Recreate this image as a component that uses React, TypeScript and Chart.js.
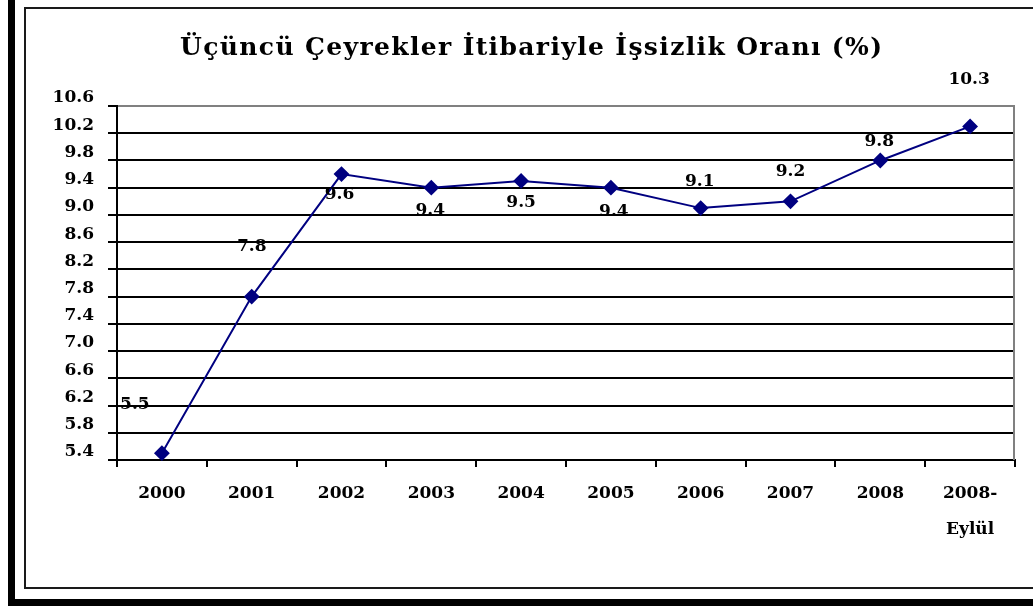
import React, { useEffect, useRef } from 'react';
import { Chart, registerables } from 'chart.js';

Chart.register(...registerables);

const titleText = 'Üçüncü Çeyrekler İtibariyle İşsizlik Oranı (%)';
const categories: (string | string[])[] = ['2000', '2001', '2002', '2003', '2004', '2005', '2006', '2007', '2008', ['2008-', 'Eylül']];
const unemployment = [5.5, 7.8, 9.6, 9.4, 9.5, 9.4, 9.1, 9.2, 9.8, 10.3];
const yTicks = [5.4, 5.8, 6.2, 6.6, 7.0, 7.4, 7.8, 8.2, 8.6, 9.0, 9.4, 9.8, 10.2, 10.6];
// label placement relative to each point (dx, dy)
const labelOffsets: [number, number][] = [
  [-27, -49], [0, -50], [-2, 21], [-1, 23], [0, 22], [3, 24], [-1, -27], [0, -30], [-1, -19], [-1, -47],
];

const FONT = '"DejaVu Serif", serif';

export default function App() {
  const ref = useRef<HTMLCanvasElement | null>(null);

  useEffect(() => {
    const canvas = ref.current;
    if (!canvas) return;

    const titlePlugin = {
      id: 'customTitle',
      afterDraw(chart: any) {
        const ctx = chart.ctx as CanvasRenderingContext2D;
        ctx.save();
        ctx.font = `bold 25px ${FONT}`;
        ctx.fillStyle = '#000';
        ctx.textAlign = 'left';
        ctx.textBaseline = 'alphabetic';
        (ctx as any).letterSpacing = '0px';
        const w = ctx.measureText(titleText).width;
        const target = 702;
        const ls = Math.max(0, (target - w) / (titleText.length - 1));
        (ctx as any).letterSpacing = `${ls}px`;
        ctx.fillText(titleText, 180, 55);
        (ctx as any).letterSpacing = '0px';
        ctx.restore();
      },
    };

    const frameAndLabels = {
      id: 'frameAndLabels',
      afterDatasetsDraw(chart: any) {
        const ctx = chart.ctx as CanvasRenderingContext2D;
        const a = chart.chartArea;
        ctx.save();
        ctx.strokeStyle = '#808080';
        ctx.lineWidth = 2;
        ctx.beginPath();
        ctx.moveTo(a.right - 1, a.top);
        ctx.lineTo(a.right - 1, a.bottom);
        ctx.stroke();

        const meta = chart.getDatasetMeta(0);
        ctx.font = `bold 17px ${FONT}`;
        ctx.fillStyle = '#000';
        ctx.textAlign = 'center';
        ctx.textBaseline = 'middle';
        meta.data.forEach((pt: any, i: number) => {
          const [dx, dy] = labelOffsets[i];
          ctx.fillText(unemployment[i].toFixed(1), pt.x + dx, pt.y + dy);
        });
        ctx.restore();
      },
    };

    const chart = new Chart(canvas, {
      type: 'line',
      data: {
        labels: categories,
        datasets: [
          {
            data: unemployment,
            borderColor: '#000080',
            backgroundColor: '#000080',
            borderWidth: 2,
            pointStyle: 'rectRot',
            pointRadius: 6.5,
            pointBackgroundColor: '#000080',
            pointBorderColor: '#000080',
            tension: 0,
            clip: false as any,
          },
        ],
      },
      options: {
        responsive: false,
        animation: false,
        layout: { padding: { left: 30, top: 106, right: 18, bottom: 10 } },
        plugins: {
          legend: { display: false },
          title: { display: false },
          tooltip: { enabled: false },
        },
        scales: {
          x: {
            type: 'category',
            offset: true,
            afterFit: (scale: any) => {
              scale.height = 136;
            },
            grid: {
              display: true,
              drawOnChartArea: false,
              drawTicks: true,
              tickLength: 7,
              tickColor: '#000',
              lineWidth: 2,
              offset: true,
            },
            border: { display: true, color: '#000', width: 2 },
            ticks: {
              color: '#000',
              font: { family: FONT, size: 17, weight: 'bold', lineHeight: 2.15 },
              padding: 8,
              maxRotation: 0,
              autoSkip: false,
            },
          },
          y: {
            type: 'linear',
            min: 5.4,
            max: 10.6,
            afterFit: (scale: any) => {
              scale.width = 87;
            },
            afterBuildTicks: (scale: any) => {
              scale.ticks = yTicks.map((v) => ({ value: v }));
            },
            grid: {
              color: (c: any) => (c.index === yTicks.length - 1 ? '#808080' : '#000'),
              lineWidth: 2,
              drawTicks: true,
              tickLength: 9,
              tickColor: '#000',
            },
            border: { display: true, color: '#000', width: 2 },
            ticks: {
              color: '#000',
              font: { family: FONT, size: 17, weight: 'bold' },
              padding: 14,
              labelOffset: -8,
              callback: (v: any) => Number(v).toFixed(1),
            },
          },
        },
      },
      plugins: [titlePlugin, frameAndLabels],
    });

    return () => chart.destroy();
  }, []);

  return (
    <div
      style={{
        position: 'fixed',
        left: 0,
        top: 0,
        width: 1033,
        height: 606,
        overflow: 'hidden',
        background: '#fff',
      }}
    >
      <div style={{ position: 'absolute', left: 8, top: 0, width: 7, height: 606, background: '#000' }} />
      <div style={{ position: 'absolute', left: 8, top: 599, width: 1025, height: 7, background: '#000' }} />
      <div
        style={{
          position: 'absolute',
          left: 24,
          top: 7,
          width: 1100,
          height: 578,
          border: '2px solid #1a1a1a',
        }}
      />
      <canvas
        ref={ref}
        width={1033}
        height={606}
        style={{ position: 'absolute', left: 0, top: 0, width: 1033, height: 606 }}
      />
    </div>
  );
}
